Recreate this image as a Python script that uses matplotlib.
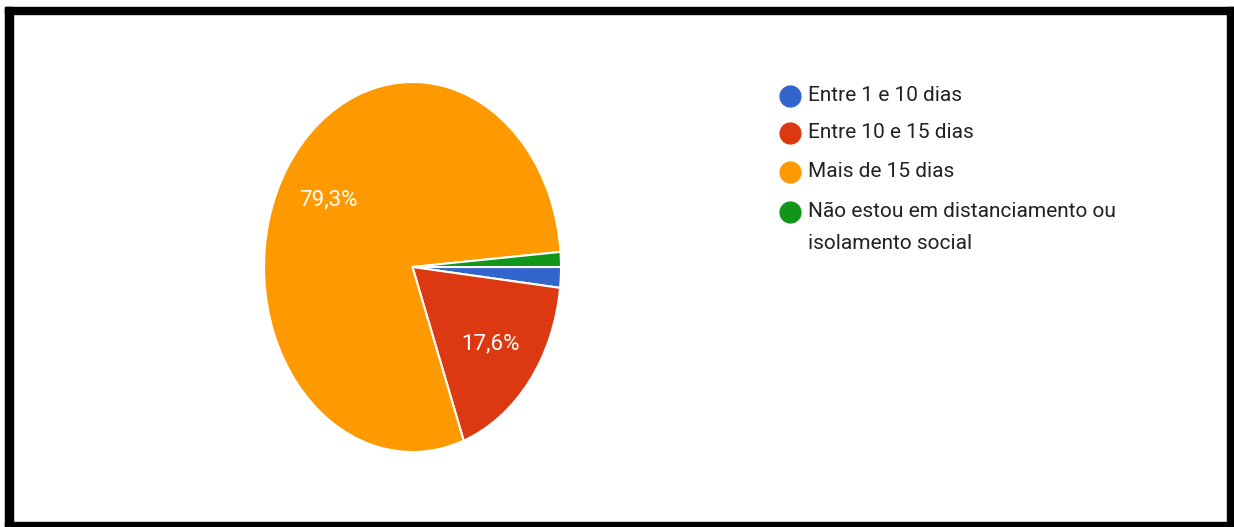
import matplotlib.pyplot as plt
from matplotlib.patches import Rectangle
from matplotlib.lines import Line2D

# respostas (%)
labels = ["Entre 1 e 10 dias", "Entre 10 e 15 dias", "Mais de 15 dias",
          "Não estou em distanciamento ou\nisolamento social"]
values = [1.8, 17.6, 79.3, 1.3]
colors = ["#3366cc", "#dc3912", "#ff9900", "#109618"]

plt.rcParams['font.family'] = ['Roboto', 'DejaVu Sans']

W, H = 1234, 527
fig = plt.figure(figsize=(W / 100, H / 100), dpi=100)

def fx(px):
    return px / W

def fy(py):
    return 1 - py / H

# pie (stretched a bit vertically)
ax = fig.add_axes([fx(264), fy(452), 297 / W, 370 / H])

def fmt(p):
    return f"{p:.1f}".replace(".", ",") + "%" if p > 5 else ""

wedges, texts, autotexts = ax.pie(values, colors=colors, startangle=0, counterclock=False,
                                  autopct=fmt, pctdistance=0.67,
                                  wedgeprops=dict(edgecolor="white", linewidth=1.5),
                                  textprops=dict(color="white", fontsize=16))
ax.set_aspect("auto")
ax.set_xlim(-1, 1)
ax.set_ylim(-1, 1)

# legend
ys = [96, 133, 172, 212]
for y, lab, c in zip(ys, labels, colors):
    fig.add_artist(Line2D([fx(790)], [fy(y)], marker="o", markersize=15,
                          color=c, linestyle="none", transform=fig.transFigure))
    fig.text(fx(808), fy(y - 10), lab, fontsize=15, color="#222222",
             va="top", ha="left", linespacing=1.85)

# black frame
k = "black"
fig.add_artist(Rectangle((fx(5), fy(527)), fx(8), 520 / H, color=k, transform=fig.transFigure))
fig.add_artist(Rectangle((fx(5), fy(14)), fx(1229), 7 / H, color=k, transform=fig.transFigure))
fig.add_artist(Rectangle((fx(1227), fy(527)), fx(7), 520 / H, color=k, transform=fig.transFigure))
fig.add_artist(Rectangle((fx(5), fy(527)), fx(1229), 5 / H, color=k, transform=fig.transFigure))

fig.savefig("out.png", dpi=100)
